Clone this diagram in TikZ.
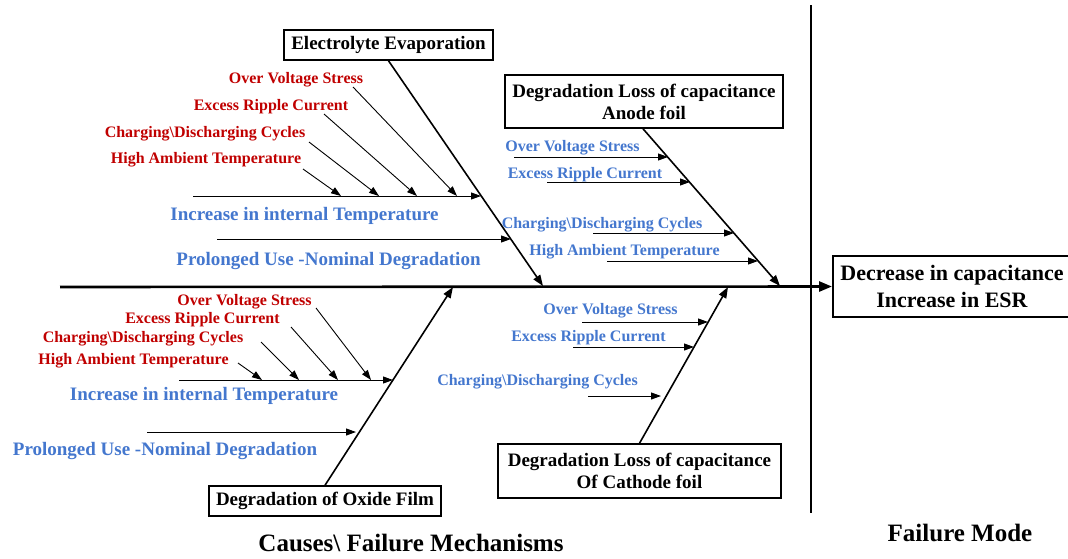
\documentclass[tikz,border=0pt]{standalone}
\usepackage{fontspec}
\setmainfont{Liberation Serif}
\usetikzlibrary{arrows.meta}
\definecolor{causered}{RGB}{192,0,0}
\definecolor{causeblue}{RGB}{68,119,206}
\tikzset{
	bonebox/.style={draw, line width=1.5pt, inner xsep=6pt, inner ysep=3pt, align=center,
		font=\bfseries\fontsize{19}{22}\selectfont},
	redcause/.style={text=causered, inner sep=0pt, yshift=-2pt, font=\bfseries\fontsize{16}{18}\selectfont},
	bluecause/.style={text=causeblue, inner sep=0pt, yshift=-2pt, font=\bfseries\fontsize{16}{18}\selectfont},
	bigcause/.style={text=causeblue, inner sep=0pt, yshift=-2pt, font=\bfseries\fontsize{19}{22}\selectfont},
	heading/.style={inner sep=0pt, font=\bfseries\fontsize{25}{28}\selectfont},
	bone/.style={line width=1.6pt, -{Triangle[length=11pt,width=8pt]}},
	twig/.style={line width=0.9pt, -{Triangle[length=10pt,width=7pt]}}
}
\begin{document}
\begin{tikzpicture}[x=1pt,y=-1pt]
	\useasboundingbox (0,0) rectangle (1068,558);
	% spine and effect
	\node[bonebox, line width=2pt, minimum width=238, minimum height=61, inner ysep=2pt,
		font=\bfseries\fontsize{22}{27}\selectfont] (effect) at (952,286.5)
		{Decrease in capacitance\\Increase in ESR};
	\coordinate (spinestart) at (60,287);
	\draw[line width=2.6pt, -{Triangle[length=13pt,width=10pt]}] (spinestart) -- (effect.west);
	\coordinate (vtop) at (811,5);
	\coordinate (vbot) at (811,513);
	\draw[line width=2.6pt] (vtop) -- (vbot);
	\node[heading] (causes) at (411,543) {Causes\textbackslash\ Failure Mechanisms};
	\node[heading] (mode) at (960,533) {Failure Mode};

	% electrolyte evaporation
	\node[bonebox, minimum width=209, minimum height=30] (ee) at (388.5,45) {Electrolyte Evaporation};
	\coordinate (eeend) at (543,286);
	\draw[bone] (ee.south) -- (eeend);
	\node[redcause] (ee1) at (296,78) {Over Voltage Stress};
	\node[redcause] (ee2) at (271,105) {Excess Ripple Current};
	\node[redcause] (ee3) at (205,132) {Charging\textbackslash Discharging Cycles};
	\node[redcause] (ee4) at (206,158) {High Ambient Temperature};
	\coordinate (eeheat0) at (193,196);
	\coordinate (eeheat1) at (481,196);
	\draw[twig] (eeheat0) -- (eeheat1);
	\coordinate (ee1a) at (353,87);  \coordinate (ee1b) at (457,196);
	\coordinate (ee2a) at (324,114); \coordinate (ee2b) at (417,196);
	\coordinate (ee3a) at (309,142); \coordinate (ee3b) at (379,196);
	\coordinate (ee4a) at (303,169); \coordinate (ee4b) at (341,196);
	\foreach \i in {1,...,4}
		\draw[twig] (ee\i a) -- (ee\i b);
	\node[bigcause] (eeheat) at (304.5,214) {Increase in internal Temperature};
	\coordinate (eeuse0) at (217,239);
	\coordinate (eeuse1) at (511,239);
	\draw[twig] (eeuse0) -- (eeuse1);
	\node[bigcause] (eeuse) at (328.5,259) {Prolonged Use -Nominal Degradation};

	% anode foil
	\node[bonebox, minimum width=278, minimum height=53] (an) at (644,101.5)
		{Degradation Loss of capacitance\\Anode foil};
	\coordinate (anend) at (780,286);
	\draw[bone] ([xshift=-1pt]an.south) -- (anend);
	\node[bluecause] (an1) at (572.5,146) {Over Voltage Stress};
	\node[bluecause] (an2) at (585,173) {Excess Ripple Current};
	\node[bluecause] (an3) at (602,223) {Charging\textbackslash Discharging Cycles};
	\node[bluecause] (an4) at (624.5,250) {High Ambient Temperature};
	\coordinate (an1a) at (514,157); \coordinate (an1b) at (668,157);
	\coordinate (an2a) at (547,182); \coordinate (an2b) at (690,182);
	\coordinate (an3a) at (593,233); \coordinate (an3b) at (734,233);
	\coordinate (an4a) at (607,261); \coordinate (an4b) at (758,261);
	\foreach \i in {1,...,4}
		\draw[twig] (an\i a) -- (an\i b);

	% oxide film
	\node[bonebox, minimum width=232, minimum height=30] (ox) at (325,501) {Degradation of Oxide Film};
	\coordinate (oxend) at (453,287);
	\draw[bone] (ox.north) -- (oxend);
	\node[redcause] (ox1) at (244.5,300) {Over Voltage Stress};
	\node[redcause] (ox2) at (202.5,318) {Excess Ripple Current};
	\node[redcause] (ox3) at (143,337) {Charging\textbackslash Discharging Cycles};
	\node[redcause] (ox4) at (133.5,359) {High Ambient Temperature};
	\coordinate (oxheat0) at (179,380);
	\coordinate (oxheat1) at (393,380);
	\draw[twig] (oxheat0) -- (oxheat1);
	\coordinate (ox1a) at (316,308); \coordinate (ox1b) at (371,380);
	\coordinate (ox2a) at (291,327); \coordinate (ox2b) at (338,380);
	\coordinate (ox3a) at (261,342); \coordinate (ox3b) at (299,380);
	\coordinate (ox4a) at (238,363); \coordinate (ox4b) at (262,380);
	\foreach \i in {1,...,4}
		\draw[twig] (ox\i a) -- (ox\i b);
	\node[bigcause] (oxheat) at (204,394) {Increase in internal Temperature};
	\coordinate (oxuse0) at (147,432);
	\coordinate (oxuse1) at (356,432);
	\draw[twig] (oxuse0) -- (oxuse1);
	\node[bigcause] (oxuse) at (165,449) {Prolonged Use -Nominal Degradation};

	% cathode foil
	\node[bonebox, minimum width=283, minimum height=54] (ca) at (639.5,471)
		{Degradation Loss of capacitance\\Of Cathode foil};
	\coordinate (caend) at (728,287);
	\draw[bone] (ca.north) -- (caend);
	\node[bluecause] (ca1) at (610.5,309) {Over Voltage Stress};
	\node[bluecause] (ca2) at (588.5,336) {Excess Ripple Current};
	\node[bluecause] (ca3) at (537.5,380) {Charging\textbackslash Discharging Cycles};
	\coordinate (ca1a) at (582,322); \coordinate (ca1b) at (708,322);
	\coordinate (ca2a) at (573,347); \coordinate (ca2b) at (694,347);
	\coordinate (ca3a) at (588,396); \coordinate (ca3b) at (661,396);
	\foreach \i in {1,...,3}
		\draw[twig] (ca\i a) -- (ca\i b);
\end{tikzpicture}
\end{document}
